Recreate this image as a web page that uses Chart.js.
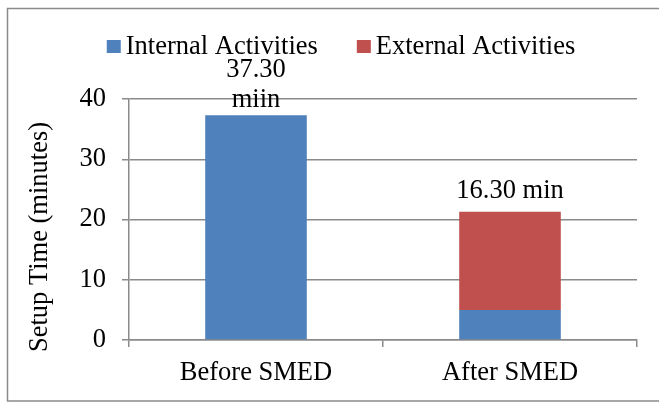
<!DOCTYPE html>
<html>
<head>
<meta charset="utf-8">
<script src="https://cdn.jsdelivr.net/npm/chart.js@4.4.1/dist/chart.umd.min.js"></script>
<style>
  html, body { margin: 0; padding: 0; background: #ffffff; }
  #wrap { width: 659px; height: 403px; position: relative; }
</style>
</head>
<body>
<div id="wrap"><canvas id="c" width="659" height="403"></canvas></div>
<script>
// ---- data ----
const categories = ["Before SMED", "After SMED"];
const seriesNames = ["Internal Activities", "External Activities"];
const internalValues = [37.3, 5.0];
const externalValues = [0, 16.3];
const totalLabels = [["37.30", "miin"], ["16.30 min"]];
const yTicks = [0, 10, 20, 30, 40];
const yTitle = "Setup Time (minutes)";

const FONT = "'Liberation Serif', 'Times New Roman', serif";
const GRID = "#8a8a8a";
const colors = ["#4F81BD", "#C0504D"];

const decorPlugin = {
  id: 'decor',
  beforeDraw(chart) {
    const ctx = chart.ctx;
    ctx.save();
    ctx.fillStyle = '#ffffff';
    ctx.fillRect(0, 0, chart.width, chart.height);
    ctx.strokeStyle = GRID;
    ctx.lineWidth = 1.5;
    ctx.strokeRect(7.5, 8.5, 700, 392.5);
    ctx.restore();
  },
  afterDraw(chart) {
    const ctx = chart.ctx;
    ctx.save();
    // legend
    ctx.font = "26.5px " + FONT;
    ctx.textBaseline = 'alphabetic';
    ctx.textAlign = 'left';
    const items = chart.data.datasets.map(d => ({ label: d.label, color: d.backgroundColor, w: ctx.measureText(d.label).width }));
    const boxW = 14, boxH = 13, gapBT = 5, gapItems = 39;
    let total = 0;
    items.forEach((it, i) => { total += boxW + gapBT + it.w + (i ? gapItems : 0); });
    let x = 341 - total / 2;
    items.forEach((it) => {
      ctx.fillStyle = it.color;
      ctx.fillRect(x, 40, boxW, boxH);
      ctx.fillStyle = '#000000';
      ctx.fillText(it.label, x + boxW + gapBT, 54);
      x += boxW + gapBT + it.w + gapItems;
    });
    // y-axis title
    ctx.save();
    ctx.translate(47, 237);
    ctx.rotate(-Math.PI / 2);
    ctx.textAlign = 'center';
    ctx.fillText(yTitle, 0, 0);
    ctx.restore();
    // total labels above stacks
    const topMeta = chart.getDatasetMeta(chart.data.datasets.length - 1);
    const yScale = chart.scales.y;
    ctx.textAlign = 'center';
    totalLabels.forEach((lines, i) => {
      const bar = topMeta.data[i];
      const sum = internalValues[i] + externalValues[i];
      const topY = yScale.getPixelForValue(sum);
      const lh = 30;
      const gap = lines.length > 1 ? 8 : 14;
      lines.forEach((ln, j) => {
        const by = topY - gap - (lines.length - 1 - j) * lh;
        ctx.fillText(ln, bar.x, by);
      });
    });
    ctx.restore();
  }
};

new Chart(document.getElementById('c'), {
  type: 'bar',
  data: {
    labels: categories,
    datasets: [
      { label: seriesNames[0], data: internalValues, backgroundColor: colors[0], borderWidth: 0 },
      { label: seriesNames[1], data: externalValues, backgroundColor: colors[1], borderWidth: 0 }
    ]
  },
  options: {
    responsive: false,
    animation: false,
    devicePixelRatio: 1,
    layout: { padding: { left: 0, right: 22, top: 99, bottom: 0 } },
    plugins: { legend: { display: false }, tooltip: { enabled: false } },
    datasets: { bar: { categoryPercentage: 1.0, barPercentage: 0.4 } },
    scales: {
      x: {
        stacked: true,
        afterFit(s) { s.height = 63; },
        grid: { offset: true, drawOnChartArea: false, color: GRID, lineWidth: 1.5, tickLength: 7 },
        border: { display: true, color: GRID, width: 1.5 },
        ticks: { color: '#000000', font: { family: FONT, size: 26.5 }, padding: 10, maxRotation: 0 }
      },
      y: {
        stacked: true,
        min: 0, max: 40,
        afterFit(s) { s.width = 129; },
        afterBuildTicks(s) { s.ticks = yTicks.map(v => ({ value: v })); },
        grid: { color: GRID, lineWidth: 1.5, tickLength: 7 },
        border: { display: true, color: GRID, width: 1.5 },
        ticks: { color: '#000000', font: { family: FONT, size: 26.5 }, padding: 16 }
      }
    }
  },
  plugins: [decorPlugin]
});
</script>
</body>
</html>
